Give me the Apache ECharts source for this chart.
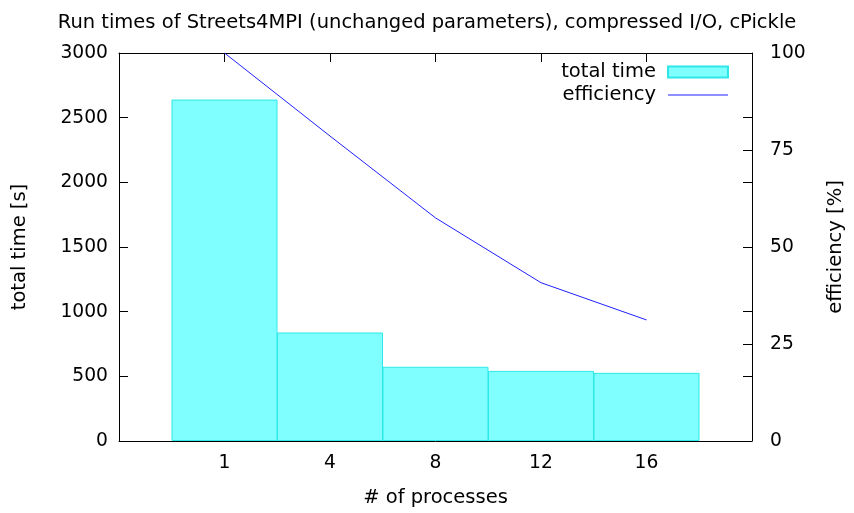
<!DOCTYPE html>
<html>
<head>
<meta charset="utf-8">
<script src="https://cdn.jsdelivr.net/npm/echarts@6/dist/echarts.min.js"></script>
<style>
  html, body { margin: 0; padding: 0; background: #fff; }
  #chart { width: 854px; height: 513px; }
</style>
</head>
<body>
<div id="chart"></div>
<script>
// Process counts (x categories)
const processes = ['1', '4', '8', '12', '16'];
// Total run time in seconds per process count
const totalTime = [2640, 839, 574, 542, 527];
// Parallel efficiency in percent
const efficiency = [100, 78.6, 57.5, 40.8, 31.2];
// Tick values of both vertical axes
const timeTicks = [0, 500, 1000, 1500, 2000, 2500, 3000];
const effTicks = [0, 25, 50, 75, 100];

const FONT = 'DejaVu Sans';
const FS = 19.5;       // title, axis names, legend
const FS_TICK = 18.7;  // tick labels
const grid = { left: 119, right: 99, top: 53, bottom: 69 };
const plotWidth = 854 - grid.left - grid.right;
const slots = processes.length + 1;
const barWidth = plotWidth / slots;

const timeMax = timeTicks[timeTicks.length - 1];
const effMax = effTicks[effTicks.length - 1];

const chart = echarts.init(document.getElementById('chart'), null, { renderer: 'canvas' });

const tickLabel = v => {
  const i = Math.round(v) - 1;
  return (i >= 0 && i < processes.length) ? processes[i] : '';
};

const axisLine = { show: true, onZero: false, lineStyle: { color: '#000', width: 1 } };
const inTick = { show: true, inside: true, length: 9, lineStyle: { color: '#000', width: 1 } };
const textBase = { fontFamily: FONT, fontSize: FS, color: '#000' };
const tickText = { fontFamily: FONT, fontSize: FS_TICK, color: '#000' };

// right border carries its own ticks plus the mirrored time ticks
const rightTicks = effTicks.concat(timeTicks.map(t => t / timeMax * effMax));

chart.setOption({
  animation: false,
  backgroundColor: '#fff',
  textStyle: { fontFamily: FONT },
  title: {
    text: 'Run times of Streets4MPI (unchanged parameters), compressed I/O, cPickle',
    left: 'center',
    top: 8,
    textStyle: Object.assign({ fontWeight: 'normal' }, textBase)
  },
  legend: {
    orient: 'vertical',
    right: 125,
    top: 62,
    padding: 0,
    align: 'right',
    itemWidth: 60,
    itemHeight: 11,
    itemGap: 3,
    textStyle: Object.assign({ lineHeight: 20, padding: [0, 7, 0, 0] }, textBase),
    data: [
      { name: 'total time', icon: 'rect' },
      { name: 'efficiency', icon: 'path://M0,0 L60,0 L60,1 L0,1 Z' }
    ]
  },
  grid: grid,
  xAxis: [
    {
      type: 'value', position: 'bottom', min: 0, max: slots, interval: 1,
      z: 5,
      axisLine: axisLine,
      axisTick: { show: false },
      splitLine: { show: false },
      axisLabel: Object.assign({ formatter: tickLabel, margin: 13 }, tickText),
      name: '# of processes', nameLocation: 'middle', nameGap: 47,
      nameTextStyle: textBase
    },
    {
      type: 'value', position: 'top', min: 0, max: slots, interval: 1,
      axisLine: axisLine, axisTick: inTick,
      splitLine: { show: false }, axisLabel: { show: false }
    }
  ],
  yAxis: [
    {
      type: 'value', position: 'left', min: timeTicks[0], max: timeMax,
      interval: timeTicks[1] - timeTicks[0],
      axisLine: axisLine, axisTick: inTick, splitLine: { show: false },
      axisLabel: Object.assign({ margin: 11, formatter: v => String(v) }, tickText),
      name: 'total time [s]', nameLocation: 'middle', nameGap: 89, nameRotate: 90,
      nameTextStyle: textBase
    },
    {
      type: 'value', position: 'right', min: effTicks[0], max: effMax,
      interval: effTicks[1] - effTicks[0],
      axisLine: axisLine,
      axisTick: Object.assign({ customValues: rightTicks }, inTick),
      splitLine: { show: false },
      axisLabel: Object.assign({ margin: 18, customValues: effTicks, formatter: v => String(v) }, tickText),
      name: 'efficiency [%]', nameLocation: 'middle', nameGap: 74, nameRotate: 90,
      nameTextStyle: textBase
    }
  ],
  series: [
    {
      name: 'total time',
      type: 'bar',
      xAxisIndex: 0,
      yAxisIndex: 0,
      barWidth: barWidth,
      itemStyle: { color: 'rgba(0,255,255,0.5)', borderColor: '#2ee8e8', borderWidth: 1 },
      data: totalTime.map((t, i) => [i + 1, t])
    },
    {
      name: 'efficiency',
      type: 'line',
      xAxisIndex: 0,
      yAxisIndex: 1,
      symbol: 'none',
      z: 4,
      lineStyle: { color: '#2020ff', width: 1 },
      itemStyle: { color: '#2020ff' },
      data: efficiency.map((e, i) => [i + 1, e])
    }
  ]
});
</script>
</body>
</html>
